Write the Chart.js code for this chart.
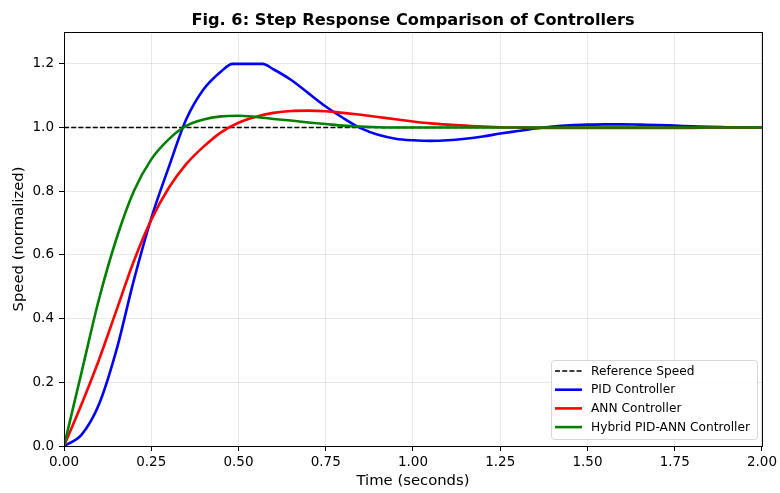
<!DOCTYPE html>
<html>
<head>
<meta charset="utf-8">
<script src="https://cdn.jsdelivr.net/npm/chart.js@4.4.1/dist/chart.umd.min.js"></script>
<style>
  html, body { margin: 0; padding: 0; background: #fff; }
  #wrap { width: 780px; height: 493px; }
</style>
</head>
<body>
<div id="wrap"><canvas id="c"></canvas></div>
<script>
// Time axis (seconds)
const time = [0, 0.05, 0.1, 0.15, 0.2, 0.25, 0.3, 0.35, 0.4, 0.45, 0.5, 0.55, 0.6, 0.65, 0.7, 0.75, 0.8, 0.85, 0.9, 0.95,
              1.0, 1.05, 1.1, 1.15, 1.2, 1.25, 1.3, 1.35, 1.4, 1.45, 1.5, 1.55, 1.6, 1.65, 1.7, 1.75, 1.8, 1.85, 1.9, 1.95, 2.0];
// PID has its own time points so the clipped plateau (1.2) starts/ends where it does in the figure
const pidTime = [0, 0.05, 0.1, 0.15, 0.2, 0.25, 0.3, 0.35, 0.4, 0.45, 0.483, 0.569, 0.6, 0.65, 0.7, 0.75, 0.8, 0.85, 0.9, 0.95,
                 1.0, 1.05, 1.1, 1.15, 1.2, 1.25, 1.3, 1.35, 1.4, 1.45, 1.5, 1.55, 1.6, 1.65, 1.7, 1.75, 1.8, 1.85, 1.9, 1.95, 2.0];
const pidSpeed = [0, 0.035, 0.13, 0.30, 0.52, 0.715, 0.875, 1.025, 1.12, 1.176, 1.2, 1.2, 1.183, 1.15, 1.108, 1.066, 1.03, 0.998, 0.977, 0.965,
                  0.960, 0.958, 0.960, 0.965, 0.972, 0.981, 0.989, 0.997, 1.003, 1.007, 1.009, 1.010, 1.010, 1.009, 1.008, 1.006, 1.004, 1.002, 1.001, 1.0, 1.0];
const annSpeed = [0, 0.13, 0.27, 0.425, 0.58, 0.71, 0.81, 0.885, 0.94, 0.985, 1.015, 1.034, 1.046, 1.052, 1.053, 1.051, 1.046, 1.04, 1.033, 1.026,
                  1.019, 1.013, 1.009, 1.006, 1.003, 1.001, 1.0, 0.999, 0.999, 0.999, 0.999, 0.999, 0.999, 0.999, 0.999, 0.999, 0.999, 1.0, 1.0, 1.0, 1.0];
const hybridSpeed = [0, 0.23, 0.46, 0.65, 0.80, 0.9, 0.963, 1.005, 1.025, 1.035, 1.037, 1.033, 1.027, 1.022, 1.016, 1.011, 1.006, 1.003, 1.001, 1.0,
                     1.0, 1.0, 1.0, 1.0, 1.0, 1.0, 1.0, 1.0, 1.0, 1.0, 1.0, 1.0, 1.0, 1.0, 1.0, 1.0, 1.0, 1.0, 1.0, 1.0, 1.0];
const refTime = [0, 2.0];
const refSpeed = [1.0, 1.0];

const xTicks = [0, 0.25, 0.5, 0.75, 1.0, 1.25, 1.5, 1.75, 2.0];
const yTicks = [0, 0.2, 0.4, 0.6, 0.8, 1.0, 1.2];

const titleText = 'Fig. 6: Step Response Comparison of Controllers';
const FONT = "'DejaVu Sans', sans-serif";

function pts(xs, ys) { return xs.map((x, i) => ({ x: x, y: ys[i] })); }

// title, top/right spines and matplotlib-style legend
const decor = {
    id: 'decor',
    afterDatasetsDraw(chart) {
        const ctx = chart.ctx;
        const a = chart.chartArea;
        ctx.save();
        ctx.strokeStyle = '#000';
        ctx.lineWidth = 1;
        ctx.strokeRect(a.left + 0.5, a.top + 0.5, a.right - a.left, a.bottom - a.top);

        ctx.fillStyle = '#000';
        ctx.font = 'bold 16.2px ' + FONT;
        ctx.textAlign = 'center';
        ctx.textBaseline = 'alphabetic';
        ctx.fillText(titleText, (a.left + a.right) / 2, 24.5);

        // legend box
        const bx = 551.5, by = 360.5, bw = 206, bh = 79;
        ctx.beginPath();
        ctx.roundRect(bx, by, bw, bh, 3);
        ctx.fillStyle = 'rgba(255,255,255,0.8)';
        ctx.fill();
        ctx.strokeStyle = '#d6d6d6';
        ctx.lineWidth = 1;
        ctx.stroke();
        ctx.font = '12.2px ' + FONT;
        ctx.textAlign = 'left';
        ctx.textBaseline = 'middle';
        chart.data.datasets.forEach((ds, i) => {
            const y = 371 + i * 18.7;
            ctx.beginPath();
            ctx.strokeStyle = ds.borderColor;
            ctx.lineWidth = ds.borderWidth;
            ctx.setLineDash(ds.borderDash || []);
            ctx.moveTo(555, y);
            ctx.lineTo(582, y);
            ctx.stroke();
            ctx.setLineDash([]);
            ctx.fillStyle = '#000';
            ctx.fillText(ds.label, 591, y + 0.5);
        });
        ctx.restore();
    }
};

new Chart(document.getElementById('c'), {
    type: 'line',
    data: {
        datasets: [
            { label: 'Reference Speed', data: pts(refTime, refSpeed), borderColor: '#000', borderWidth: 1.35, borderDash: [5, 2.2], order: 4 },
            { label: 'PID Controller', data: pts(pidTime, pidSpeed), borderColor: '#0000ff', borderWidth: 2.6, order: 3 },
            { label: 'ANN Controller', data: pts(time, annSpeed), borderColor: '#ff0000', borderWidth: 2.6, order: 2 },
            { label: 'Hybrid PID-ANN Controller', data: pts(time, hybridSpeed), borderColor: '#008000', borderWidth: 2.6, order: 1 }
        ]
    },
    options: {
        responsive: true,
        maintainAspectRatio: false,
        animation: false,
        layout: { padding: { top: 32, right: 15, left: 0, bottom: 0 } },
        elements: {
            point: { radius: 0 },
            line: { cubicInterpolationMode: 'monotone', fill: false }
        },
        plugins: { legend: { display: false }, title: { display: false }, tooltip: { enabled: false } },
        scales: {
            x: {
                type: 'linear', min: 0, max: 2,
                afterBuildTicks: s => { s.ticks = xTicks.map(v => ({ value: v })); },
                afterFit: s => { s.height = 47; },
                grid: { color: 'rgba(0,0,0,0.09)', tickColor: '#000', tickLength: 5 },
                border: { color: '#000' },
                ticks: { color: '#000', font: { family: FONT, size: 13.5 }, padding: 3, maxRotation: 0,
                         callback: v => v.toFixed(2) },
                title: { display: true, text: 'Time (seconds)', color: '#000', font: { family: FONT, size: 14.8 },
                         padding: { top: 0, bottom: 2.6 } }
            },
            y: {
                min: 0, max: 1.3,
                afterBuildTicks: s => { s.ticks = yTicks.map(v => ({ value: v })); },
                afterFit: s => { s.width = 64; },
                grid: { color: 'rgba(0,0,0,0.09)', tickColor: '#000', tickLength: 5 },
                border: { color: '#000' },
                ticks: { color: '#000', font: { family: FONT, size: 13.5 }, padding: 5,
                         callback: v => v.toFixed(1) },
                title: { display: true, text: 'Speed (normalized)', color: '#000', font: { family: FONT, size: 14.8 },
                         padding: { top: 10, bottom: 0 } }
            }
        }
    },
    plugins: [decor]
});
</script>
</body>
</html>
